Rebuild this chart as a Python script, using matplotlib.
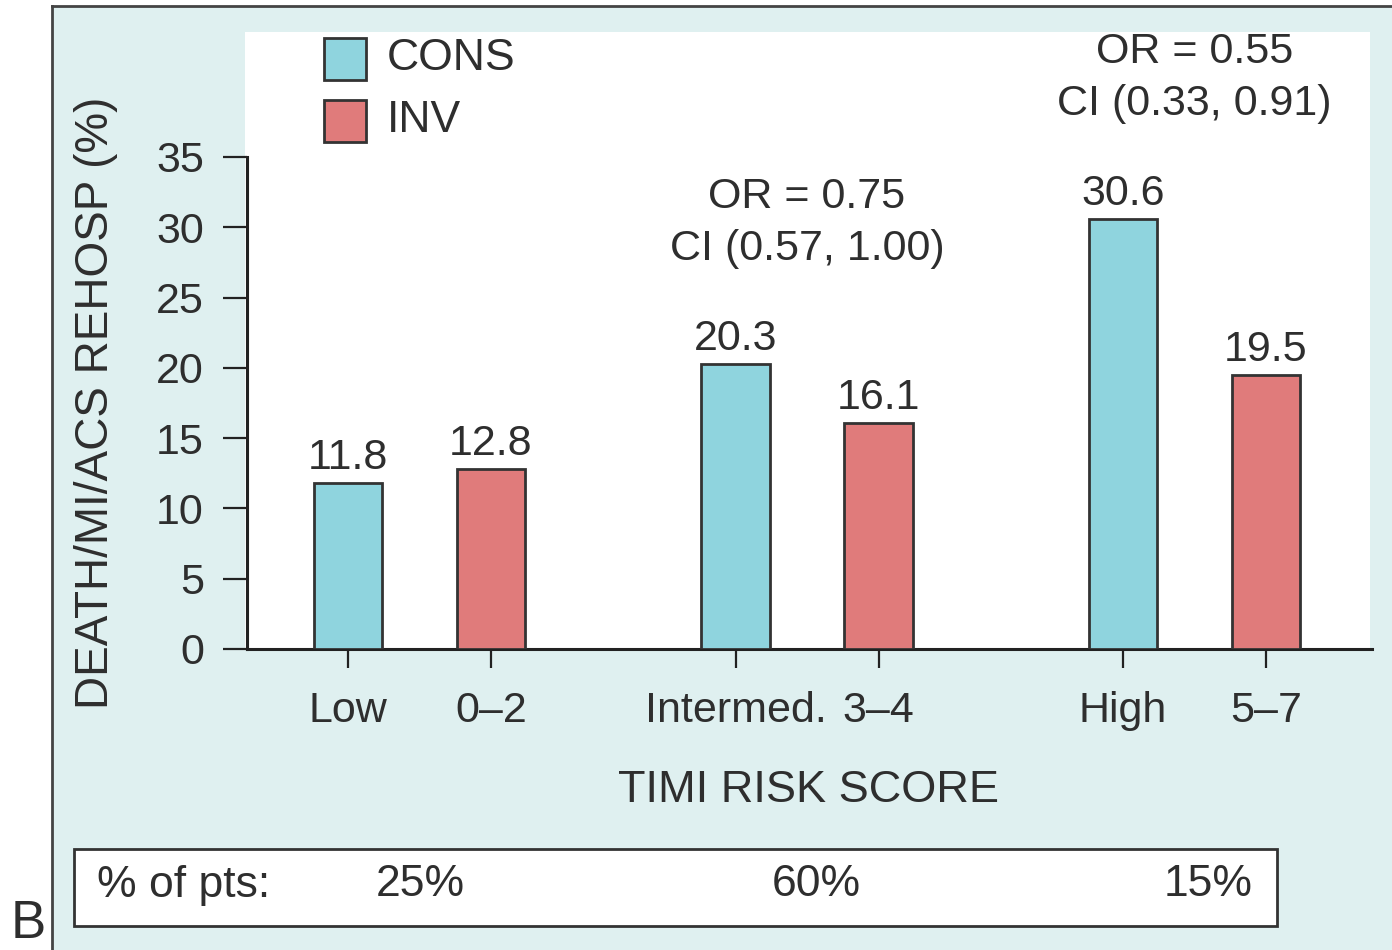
import matplotlib
matplotlib.use("Agg")
from matplotlib import pyplot as plt
from matplotlib.patches import Rectangle

plt.rcParams['font.family'] = ['Liberation Sans', 'DejaVu Sans']

# data
groups = ["Low", "Intermed.", "High"]
ranges = ["0\u20132", "3\u20134", "5\u20137"]
cons_values = [11.8, 20.3, 30.6]
inv_values = [12.8, 16.1, 19.5]
or_text = [None, "OR = 0.75\nCI (0.57, 1.00)", "OR = 0.55\nCI (0.33, 0.91)"]
pct_pts = ["25%", "60%", "15%"]
y_ticks = [0, 5, 10, 15, 20, 25, 30, 35]

cons_color = "#8fd4de"
inv_color = "#e07b7b"
panel_color = "#dff0f0"
text_color = "#2e2e2e"
edge_color = "#333333"
fs = 31

W, H = 1392, 950
fig = plt.figure(figsize=(W / 100, H / 100), dpi=100)
fig.patch.set_facecolor("white")


def fx(px):  # pixel -> figure coords
    return px / W


def fy(py):
    return 1 - py / H


# light cyan panel with border on left and top
fig.patches.append(Rectangle((fx(52), 0), 1 - fx(52), fy(6), transform=fig.transFigure,
                             facecolor=panel_color, edgecolor="none", zorder=0))
fig.lines.append(plt.Line2D([fx(52), fx(52)], [0, fy(6)], transform=fig.transFigure,
                            color="#444444", lw=2))
fig.lines.append(plt.Line2D([fx(52), 1], [fy(6), fy(6)], transform=fig.transFigure,
                            color="#444444", lw=2))
# white plotting area
fig.patches.append(Rectangle((fx(245), fy(649)), fx(1370) - fx(245), fy(32) - fy(649),
                             transform=fig.transFigure, facecolor="white",
                             edgecolor="none", zorder=0.5))

ax = fig.add_axes([fx(247), fy(649), fx(1372) - fx(247), fy(157) - fy(649)])
ax.set_facecolor("none")
ax.set_zorder(2)

d = 0.1845
w = 0.176
xs_cons = [i - d for i in range(len(groups))]
xs_inv = [i + d for i in range(len(groups))]

ax.bar(xs_cons, cons_values, width=w, color=cons_color, edgecolor=edge_color, linewidth=2, zorder=3)
ax.bar(xs_inv, inv_values, width=w, color=inv_color, edgecolor=edge_color, linewidth=2, zorder=3)

for x, v in zip(xs_cons + xs_inv, cons_values + inv_values):
    ax.text(x, v + 0.35, f"{v:.1f}", ha="center", va="bottom", fontsize=fs, color=text_color)

# odds ratio notes above each higher-risk pair
for i, t in enumerate(or_text):
    if t is None:
        continue
    top = max(cons_values[i], inv_values[i])
    ax.text(i, top + 10.0, t, ha="center", va="center", fontsize=fs,
            color=text_color, linespacing=1.4, clip_on=False)

ax.set_xlim(-0.4452, 2.458)
ax.set_ylim(0, 35)
ax.set_yticks(y_ticks)
ax.set_yticklabels([str(t) for t in y_ticks], fontsize=fs, color=text_color)
ticks_x = []
labels_x = []
for i in range(len(groups)):
    ticks_x += [xs_cons[i], xs_inv[i]]
    labels_x += [groups[i], ranges[i]]
ax.set_xticks(ticks_x)
ax.set_xticklabels(labels_x, fontsize=fs, color=text_color)

for s in ["top", "right"]:
    ax.spines[s].set_visible(False)
for s in ["left", "bottom"]:
    ax.spines[s].set_linewidth(2.2)
    ax.spines[s].set_color("#222222")
ax.tick_params(axis="y", length=17, width=1.6, pad=14, colors="#222222", labelcolor=text_color)
ax.tick_params(axis="x", length=14, width=1.6, pad=16, colors="#222222", labelcolor=text_color)

ax.set_ylabel("DEATH/MI/ACS REHOSP (%)", fontsize=33, color=text_color)
ax.yaxis.set_label_coords(-(247 - 118) / 1125, (649 - 403) / 492, transform=ax.transAxes)
fig.text(fx(808), fy(790), "TIMI RISK SCORE", ha="center", va="center", fontsize=32.5, color=text_color)

# legend squares
for j, (lab, col) in enumerate([("CONS", cons_color), ("INV", inv_color)]):
    yc = 59 + j * 62
    fig.patches.append(Rectangle((fx(324), fy(yc + 21)), fx(42), 42 / H, transform=fig.transFigure,
                                 facecolor=col, edgecolor=edge_color, linewidth=2, zorder=3))
    fig.text(fx(387), fy(yc), lab, ha="left", va="center", fontsize=32, color=text_color)

# bottom box with % of patients
fig.patches.append(Rectangle((fx(74), fy(926)), fx(1277) - fx(74), fy(849) - fy(926),
                             transform=fig.transFigure, facecolor="white",
                             edgecolor="#333333", linewidth=2, zorder=2))
fig.text(fx(97), fy(885), "% of pts:", ha="left", va="center", fontsize=32, color=text_color, zorder=4)
for px, t in zip([420, 816, 1208], pct_pts):
    fig.text(fx(px), fy(885), t, ha="center", va="center", fontsize=32, color=text_color, zorder=4)

fig.text(fx(28), fy(924), "B", ha="center", va="center", fontsize=38, color=text_color)

fig.savefig("out.png", dpi=100)
